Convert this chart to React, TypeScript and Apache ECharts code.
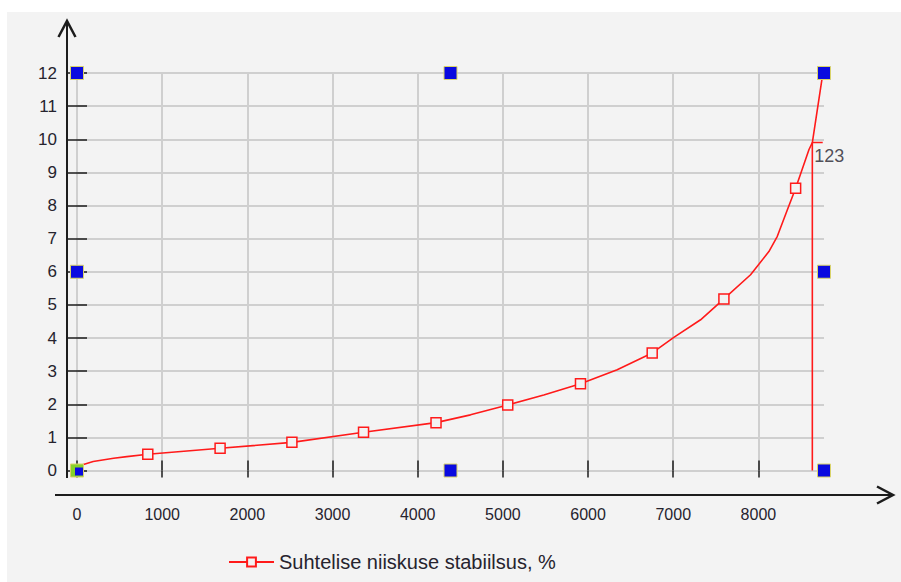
import React, { useEffect, useRef } from 'react';
import * as echarts from 'echarts';

// Axis scales
const xMin = 0;
const xMax = 8770;
const xInterval = 1000;
const xTickValues = [0, 1000, 2000, 3000, 4000, 5000, 6000, 7000, 8000];
const yMin = 0;
const yMax = 12;
const yInterval = 1;

// Curve (hours vs. value)
const seriesName = 'Suhtelise niiskuse stabiilsus, %';
const curveX = [0, 190, 430, 585, 831, 1680, 2523, 3364, 4215, 4620, 5057, 5480, 5911, 6342, 6753, 7007, 7321, 7595, 7908, 8123, 8222, 8340, 8437, 8594, 8633, 8760];
const curveY = [0.12, 0.27, 0.37, 0.42, 0.49, 0.67, 0.85, 1.155, 1.445, 1.68, 1.98, 2.28, 2.62, 3.04, 3.55, 4.02, 4.55, 5.18, 5.91, 6.61, 7.07, 7.87, 8.52, 9.69, 9.9, 12.05];
// x positions that carry a square marker
const markerX = [831, 1680, 2523, 3364, 4215, 5057, 5911, 6753, 7595, 8437];

// Cursor
const cursorX = 8633;
const cursorY = 9.9;
const cursorEndX = 8755;
const cursorLabel = '123';

// Selection handles around the plot
const handleX = [0, 4385, 8770, 0, 8770, 4385, 8770];
const handleY = [12, 12, 12, 6, 6, 0, 0];
const originHandle = [0, 0];

const RED = '#ff1a1a';
const INK = '#1c1c1c';
const TEXT = '#26232e';
const GRID = '#cfcfcf';
const FONT = '"Liberation Sans", Arial, sans-serif';

export default function App() {
  const ref = useRef<HTMLDivElement>(null);

  useEffect(() => {
    if (!ref.current) return;
    const chart = echarts.init(ref.current, undefined, { renderer: 'svg' });

    const markerSet = new Set(markerX);
    const curveData = curveX.map((x, i) =>
      markerSet.has(x) ? { value: [x, curveY[i]] } : { value: [x, curveY[i]], symbol: 'none' }
    );

    const baseX = {
      type: 'value' as const,
      gridIndex: 0,
      min: xMin,
      max: xMax,
      interval: xInterval,
      position: 'bottom' as const,
      offset: 24,
      axisLine: { show: false },
    };
    const baseY = {
      type: 'value' as const,
      gridIndex: 0,
      min: yMin,
      max: yMax,
      interval: yInterval,
      position: 'left' as const,
      offset: 10,
      axisLine: { show: false },
    };

    chart.setOption({
      animation: false,
      backgroundColor: 'transparent',
      textStyle: { fontFamily: FONT },
      grid: { left: 77, right: 77, top: 73, bottom: 111.5, containLabel: false },
      legend: {
        data: [{ name: seriesName }],
        left: 228,
        top: 552,
        padding: 0,
        itemWidth: 45,
        itemHeight: 11,
        textStyle: { fontSize: 20, color: TEXT, fontFamily: FONT },
      },
      xAxis: [
        {
          ...baseX,
          axisTick: {
            show: true,
            customValues: xTickValues,
            length: 7,
            lineStyle: { color: INK, width: 1.5 },
          },
          axisLabel: {
            customValues: xTickValues,
            formatter: (v: number) => String(v),
            margin: 12,
            fontSize: 16,
            color: TEXT,
            fontFamily: FONT,
          },
          splitLine: { show: true, lineStyle: { color: GRID, width: 2 } },
        },
        {
          ...baseX,
          axisTick: {
            show: true,
            inside: true,
            customValues: xTickValues,
            length: 10,
            lineStyle: { color: INK, width: 1.5 },
          },
          axisLabel: { show: false },
          splitLine: { show: false },
        },
      ],
      yAxis: [
        {
          ...baseY,
          axisTick: { show: true, length: 10, lineStyle: { color: INK, width: 1.5 } },
          axisLabel: { margin: 10, fontSize: 17, color: TEXT, fontFamily: FONT },
          splitLine: { show: true, lineStyle: { color: GRID, width: 2 } },
        },
        {
          ...baseY,
          axisTick: { show: true, inside: true, length: 10, lineStyle: { color: INK, width: 1.5 } },
          axisLabel: { show: false },
          splitLine: { show: false },
        },
      ],
      graphic: [
        // extended axis lines with open arrow heads
        { type: 'line', shape: { x1: 67, y1: 478, x2: 67, y2: 22 }, style: { stroke: INK, lineWidth: 2 }, z: 10 },
        { type: 'polyline', shape: { points: [[58.5, 37], [67, 21], [75.5, 37]] }, style: { stroke: INK, lineWidth: 2.5, fill: null }, z: 10 },
        { type: 'line', shape: { x1: 55, y1: 495, x2: 892, y2: 495 }, style: { stroke: INK, lineWidth: 2 }, z: 10 },
        { type: 'polyline', shape: { points: [[877, 486.5], [893, 495], [877, 503.5]] }, style: { stroke: INK, lineWidth: 2.5, fill: null }, z: 10 },
      ],
      series: [
        {
          name: seriesName,
          type: 'line',
          data: curveData,
          symbol: 'rect',
          symbolSize: 10,
          showAllSymbol: true,
          itemStyle: { color: '#f3f3f3', borderColor: RED, borderWidth: 1.5 },
          lineStyle: { color: RED, width: 1.6 },
          z: 3,
        },
        {
          name: 'cursor',
          type: 'line',
          data: [[cursorX, 0], [cursorX, cursorY], [cursorEndX, cursorY]],
          showSymbol: false,
          lineStyle: { color: RED, width: 1.6 },
          silent: true,
          z: 3,
        },
        {
          name: 'cursorLabel',
          type: 'scatter',
          data: [[cursorX, cursorY]],
          symbolSize: 0,
          silent: true,
          label: {
            show: true,
            formatter: cursorLabel,
            position: [2, 4],
            align: 'left',
            verticalAlign: 'top',
            fontSize: 18,
            color: TEXT,
            fontFamily: FONT,
          },
          z: 4,
        },
        {
          name: 'handles',
          type: 'scatter',
          data: handleX.map((x, i) => [x, handleY[i]]),
          symbol: 'rect',
          symbolSize: 13,
          itemStyle: { color: '#0a0ae0', borderColor: '#d9d36a', borderWidth: 1, opacity: 1 },
          silent: true,
          z: 6,
        },
        {
          name: 'originHandle',
          type: 'scatter',
          data: [originHandle],
          symbol: 'rect',
          symbolSize: 13,
          itemStyle: { color: '#86d22a', borderColor: '#d9d36a', borderWidth: 1, opacity: 1 },
          silent: true,
          z: 6,
        },
        {
          name: 'originHandleInner',
          type: 'scatter',
          data: [originHandle],
          symbol: 'rect',
          symbolSize: 8,
          symbolOffset: [2, 1],
          itemStyle: { color: '#0a0ae0', opacity: 1 },
          silent: true,
          z: 7,
        },
      ],
    });

    return () => chart.dispose();
  }, []);

  return (
    <div style={{ position: 'fixed', left: 0, top: 0, width: 901, height: 582, background: '#ffffff' }}>
      <div style={{ position: 'absolute', left: 7, top: 12, right: 0, bottom: 0, background: '#f3f3f3' }} />
      <div ref={ref} style={{ position: 'absolute', left: 0, top: 0, width: 901, height: 582 }} />
    </div>
  );
}
